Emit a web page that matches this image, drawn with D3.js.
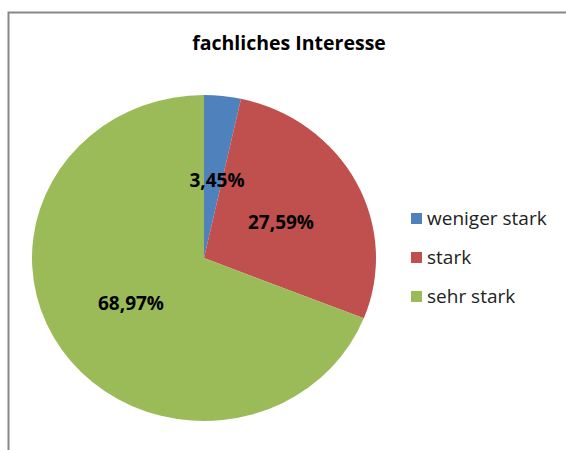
<!DOCTYPE html>
<html>
<head>
<meta charset="utf-8">
<script src="https://cdn.jsdelivr.net/npm/d3@7"></script>
<style>
  body { margin: 0; background: #fff; }
  text { font-family: "Open Sans", "DejaVu Sans", sans-serif; }
</style>
</head>
<body>
<div id="chart"></div>
<script>
const width = 566
const height = 450

const categories = ['weniger stark', 'stark', 'sehr stark']
const values = [3.45, 27.59, 68.97]
const labels = ['3,45%', '27,59%', '68,97%']
const colors = ['#4F81BD', '#C0504D', '#9BBB59']

const svg = d3
  .select('#chart')
  .append('svg')
  .attr('width', width)
  .attr('height', height)

// chart frame
svg
  .append('rect')
  .attr('x', 8.5)
  .attr('y', 12.5)
  .attr('width', 570)
  .attr('height', 450)
  .attr('fill', '#fff')
  .attr('stroke', '#888')
  .attr('stroke-width', 2)

svg
  .append('text')
  .attr('x', 289)
  .attr('y', 50)
  .attr('text-anchor', 'middle')
  .attr('font-size', 19.5)
  .attr('font-weight', 'bold')
  .text('fachliches Interesse')

const cx = 204
const cy = 258
const rx = 172
const ry = 163

const pie = d3.pie().sort(null)(values)
const arc = d3.arc().innerRadius(0).outerRadius(rx)

// pie is a bit squashed vertically in the original
const g = svg
  .append('g')
  .attr('transform', `translate(${cx},${cy}) scale(1,${ry / rx})`)

g.selectAll('path')
  .data(pie)
  .enter()
  .append('path')
  .attr('d', arc)
  .attr('fill', (d, i) => colors[i])

const labelPos = [
  [217, 187],
  [281, 229],
  [131, 310]
]

svg
  .selectAll('.lbl')
  .data(labels)
  .enter()
  .append('text')
  .attr('class', 'lbl')
  .attr('x', (d, i) => labelPos[i][0])
  .attr('y', (d, i) => labelPos[i][1])
  .attr('text-anchor', 'middle')
  .attr('font-size', 19)
  .attr('font-weight', 'bold')
  .attr('fill', '#000')
  .text(d => d)

const legend = svg
  .selectAll('.legend')
  .data(categories)
  .enter()
  .append('g')
  .attr('class', 'legend')
  .attr('transform', (d, i) => `translate(411,${219 + i * 39})`)

legend
  .append('rect')
  .attr('x', 0)
  .attr('y', -6)
  .attr('width', 11)
  .attr('height', 11)
  .attr('fill', (d, i) => colors[i])

legend
  .append('text')
  .attr('x', 16)
  .attr('y', 6)
  .attr('font-size', 19)
  .attr('fill', '#222')
  .text(d => d)
</script>
</body>
</html>
